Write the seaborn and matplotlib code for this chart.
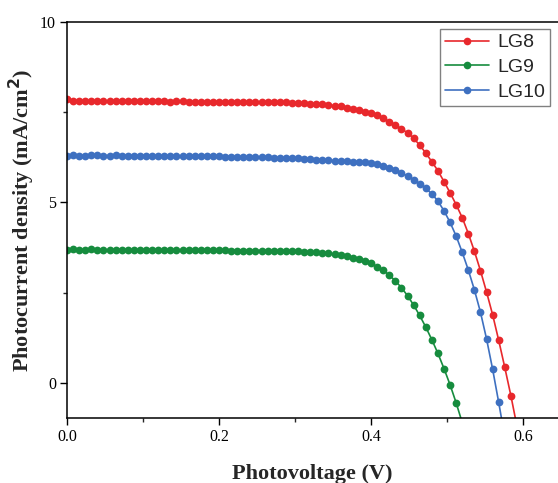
import matplotlib
matplotlib.use("Agg")
import matplotlib.pyplot as plt
from matplotlib.ticker import MultipleLocator
from matplotlib.lines import Line2D
import seaborn as sns
import pandas as pd

# ---- data ----
V = [0.000, 0.008, 0.016, 0.024, 0.032, 0.040, 0.048, 0.056, 0.064, 0.072,
     0.080, 0.088, 0.096, 0.104, 0.112, 0.120, 0.128, 0.136, 0.144, 0.152,
     0.160, 0.168, 0.176, 0.184, 0.192, 0.200, 0.208, 0.216, 0.224, 0.232,
     0.240, 0.248, 0.256, 0.264, 0.272, 0.280, 0.288, 0.296, 0.304, 0.312,
     0.320, 0.328, 0.336, 0.344, 0.352, 0.360, 0.368, 0.376, 0.384, 0.392,
     0.400, 0.408, 0.416, 0.424, 0.432, 0.440, 0.448, 0.456, 0.464, 0.472,
     0.480, 0.488, 0.496, 0.504, 0.512, 0.520, 0.528, 0.536, 0.544, 0.552,
     0.560, 0.568, 0.576, 0.584, 0.592]

J_LG8 = [7.88, 7.81, 7.80, 7.80, 7.81, 7.80, 7.80, 7.80, 7.81, 7.80,
         7.80, 7.80, 7.80, 7.80, 7.80, 7.80, 7.80, 7.79, 7.80, 7.80,
         7.79, 7.79, 7.79, 7.79, 7.79, 7.79, 7.79, 7.79, 7.78, 7.78,
         7.78, 7.78, 7.78, 7.78, 7.77, 7.77, 7.77, 7.76, 7.76, 7.75,
         7.74, 7.73, 7.72, 7.70, 7.68, 7.66, 7.63, 7.60, 7.56, 7.52,
         7.47, 7.41, 7.33, 7.24, 7.14, 7.04, 6.93, 6.78, 6.59, 6.37,
         6.13, 5.88, 5.58, 5.27, 4.94, 4.58, 4.14, 3.65, 3.11, 2.52,
         1.89, 1.18, 0.43, -0.35, -1.20]

J_LG9 = [3.69, 3.70, 3.69, 3.69, 3.70, 3.69, 3.69, 3.69, 3.69, 3.69,
         3.69, 3.69, 3.69, 3.69, 3.69, 3.69, 3.68, 3.68, 3.68, 3.68,
         3.68, 3.68, 3.68, 3.68, 3.68, 3.68, 3.68, 3.67, 3.67, 3.67,
         3.67, 3.67, 3.67, 3.66, 3.66, 3.66, 3.66, 3.65, 3.65, 3.64,
         3.63, 3.62, 3.61, 3.59, 3.57, 3.54, 3.51, 3.47, 3.43, 3.37,
         3.31, 3.22, 3.12, 2.99, 2.83, 2.64, 2.42, 2.16, 1.87, 1.55,
         1.20, 0.82, 0.40, -0.05, -0.55, -1.10]

J_LG10 = [6.30, 6.31, 6.30, 6.30, 6.31, 6.31, 6.30, 6.30, 6.31, 6.30,
          6.30, 6.30, 6.30, 6.30, 6.29, 6.29, 6.29, 6.29, 6.29, 6.29,
          6.29, 6.28, 6.28, 6.28, 6.28, 6.28, 6.27, 6.27, 6.27, 6.26,
          6.26, 6.26, 6.25, 6.25, 6.24, 6.24, 6.23, 6.23, 6.22, 6.21,
          6.20, 6.19, 6.18, 6.17, 6.16, 6.15, 6.14, 6.13, 6.12, 6.11,
          6.10, 6.07, 6.02, 5.96, 5.89, 5.82, 5.73, 5.63, 5.52, 5.39,
          5.24, 5.04, 4.77, 4.45, 4.07, 3.62, 3.13, 2.58, 1.96, 1.22,
          0.38, -0.54, -1.50]

series = ["LG8", "LG9", "LG10"]
colors = ["#E8282C", "#168C3E", "#3E70C0"]
x_ticks = [0.0, 0.2, 0.4, 0.6]
x_tick_labels = ["0.0", "0.2", "0.4", "0.6"]
y_ticks = [0, 5, 10]
y_tick_labels = ["0", "5", "10"]

# ---- build long table ----
rows = []
for name, J in zip(series, [J_LG8, J_LG9, J_LG10]):
    for v, j in zip(V[:len(J)], J):
        rows.append({"V": v, "J": j, "series": name})
df = pd.DataFrame(rows)

sns.set_theme(style="ticks")
plt.rcParams["font.family"] = ["Liberation Serif", "DejaVu Serif"]

fig = plt.figure(figsize=(5.58, 4.83), dpi=100)
ax = fig.add_axes([67 / 558, 65 / 483, 491 / 558, 396 / 483])

palette = dict(zip(series, colors))
sns.lineplot(data=df, x="V", y="J", hue="series", hue_order=series,
             palette=palette, marker="o", markersize=5.6,
             markeredgewidth=0, linewidth=1.2, sort=False,
             estimator=None, legend=False, ax=ax)

ax.set_xlim(0, 0.646)
ax.set_ylim(-0.97, 10)
ax.set_xticks(x_ticks)
ax.set_xticklabels(x_tick_labels)
ax.set_yticks(y_ticks)
ax.set_yticklabels(y_tick_labels)
ax.xaxis.set_minor_locator(MultipleLocator(0.1))
ax.yaxis.set_minor_locator(MultipleLocator(2.5))
ax.tick_params(which="major", direction="out", length=5, width=1.0,
               labelsize=11.5, pad=3, colors="black")
ax.tick_params(which="minor", direction="out", length=3, width=1.0)
ax.tick_params(top=False, right=False, which="both")

for s in ["left", "bottom", "top"]:
    ax.spines[s].set_linewidth(1.1)
    ax.spines[s].set_color("black")
ax.spines["right"].set_visible(False)

ax.set_xlabel("Photovoltage (V)", fontsize=16, fontweight="bold", labelpad=13.5)
ax.set_ylabel("Photocurrent density (mA/cm$\\mathbf{^2}$)", fontsize=16,
              fontweight="bold", labelpad=2)

handles = [Line2D([0], [0], color=c, marker="o", markersize=5.5,
                  markeredgewidth=0, linewidth=1.2) for c in colors]
leg = ax.legend(handles, series, loc="upper right",
                bbox_to_anchor=(483 / 491, (418 - 29) / 396),
                borderaxespad=0, frameon=True, fancybox=False,
                edgecolor="#808080", framealpha=1, handlelength=2.3,
                handletextpad=0.4, labelspacing=0.36, borderpad=0.25,
                prop={"family": "Liberation Sans", "size": 14})
leg.get_frame().set_linewidth(1.0)

fig.savefig("out.png", dpi=100)
